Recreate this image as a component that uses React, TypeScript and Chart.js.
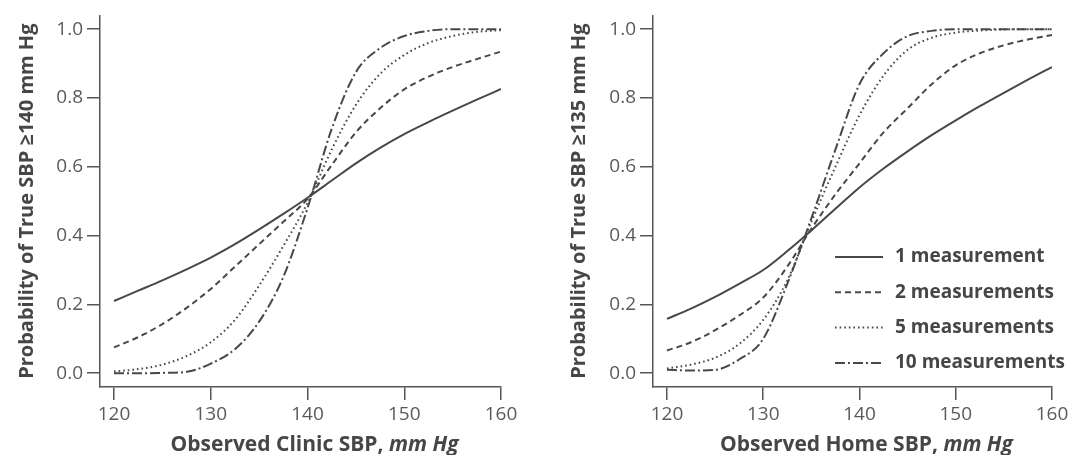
import React, { useEffect, useRef } from 'react';
import { Chart, registerables } from 'chart.js';

Chart.register(...registerables);

// ---------- data ----------
const xValues = [120, 122.5, 125, 127.5, 130, 132.5, 135, 137.5, 140, 142.5, 145, 147.5, 150, 152.5, 155, 157.5, 160];

const clinic1 = [0.21, 0.24, 0.27, 0.302, 0.336, 0.375, 0.418, 0.463, 0.51, 0.56, 0.61, 0.655, 0.695, 0.73, 0.763, 0.795, 0.826];
const clinic2 = [0.075, 0.105, 0.143, 0.19, 0.245, 0.31, 0.375, 0.44, 0.507, 0.605, 0.70, 0.77, 0.825, 0.862, 0.89, 0.913, 0.935];
const clinic5 = [0.005, 0.012, 0.025, 0.05, 0.09, 0.155, 0.255, 0.37, 0.495, 0.65, 0.78, 0.87, 0.925, 0.96, 0.98, 0.992, 0.997];
const clinic10 = [0.0, 0.0, 0.001, 0.004, 0.028, 0.07, 0.15, 0.28, 0.48, 0.71, 0.875, 0.945, 0.98, 0.995, 1.0, 1.0, 1.0];

const home1 = [0.158, 0.188, 0.222, 0.26, 0.30, 0.355, 0.415, 0.478, 0.54, 0.595, 0.645, 0.692, 0.735, 0.776, 0.815, 0.853, 0.89];
const home2 = [0.066, 0.09, 0.125, 0.168, 0.22, 0.31, 0.42, 0.52, 0.61, 0.70, 0.77, 0.84, 0.895, 0.93, 0.953, 0.97, 0.983];
const home5 = [0.014, 0.025, 0.045, 0.085, 0.155, 0.27, 0.44, 0.6, 0.75, 0.865, 0.94, 0.975, 0.99, 0.996, 0.999, 1.0, 1.0];
const home10 = [0.01, 0.008, 0.01, 0.04, 0.10, 0.26, 0.45, 0.65, 0.84, 0.93, 0.98, 0.995, 1.0, 1.0, 1.0, 1.0, 1.0];

const seriesLabels = ['1 measurement', '2 measurements', '5 measurements', '10 measurements'];
const xTicks = [120, 130, 140, 150, 160];
const yTicks = [0, 0.2, 0.4, 0.6, 0.8, 1.0];

const leftYTitle = 'Probability of True SBP \u2265140 mm Hg';
const rightYTitle = 'Probability of True SBP \u2265135 mm Hg';
const leftXTitle = 'Observed Clinic SBP, ';
const rightXTitle = 'Observed Home SBP, ';
const xTitleUnit = 'mm Hg';

// ---------- styles ----------
const FONT = '"Open Sans", "Noto Sans", sans-serif';
const LINE_COLOR = '#484848';
const AXIS_COLOR = '#555555';
const TICK_COLOR = '#5a5a5a';
const TITLE_COLOR = '#464646';
const dashes = [[], [6, 4], [1.6, 3], [10, 3, 2, 3]];

const xTitlePlugin = {
  id: 'xTitleMixed',
  afterDraw(chart: any, _args: any, opts: any) {
    if (!opts || !opts.main) return;
    const { ctx } = chart;
    const xs = chart.scales.x;
    const center = (xs.getPixelForValue(xTicks[0]) + xs.getPixelForValue(xTicks[xTicks.length - 1])) / 2 + (opts.shift || 0);
    const f1 = `bold 21px ${FONT}`;
    const f2 = `italic bold 21px ${FONT}`;
    ctx.save();
    ctx.font = f1;
    const w1 = ctx.measureText(opts.main).width;
    ctx.font = f2;
    const w2 = ctx.measureText(opts.unit).width;
    const x0 = center - (w1 + w2) / 2;
    ctx.fillStyle = TITLE_COLOR;
    ctx.textBaseline = 'middle';
    ctx.textAlign = 'left';
    ctx.font = f1;
    ctx.fillText(opts.main, x0, opts.y);
    ctx.font = f2;
    ctx.fillText(opts.unit, x0 + w1, opts.y);
    ctx.restore();
  },
};

const innerLegendPlugin = {
  id: 'innerLegend',
  afterDraw(chart: any, _args: any, opts: any) {
    if (!opts || !opts.show) return;
    const { ctx } = chart;
    chart.data.datasets.forEach((ds: any, i: number) => {
      const y = opts.top + i * opts.rowGap;
      ctx.save();
      ctx.strokeStyle = ds.borderColor;
      ctx.lineWidth = ds.borderWidth;
      ctx.setLineDash(ds.borderDash || []);
      ctx.beginPath();
      ctx.moveTo(opts.x, y);
      ctx.lineTo(opts.x + opts.sampleLen, y);
      ctx.stroke();
      ctx.setLineDash([]);
      ctx.font = `bold 19px ${FONT}`;
      ctx.fillStyle = TITLE_COLOR;
      ctx.textBaseline = 'middle';
      ctx.textAlign = 'left';
      ctx.fillText(ds.label, opts.x + opts.sampleLen + opts.gap, y);
      ctx.restore();
    });
  },
};

type PanelCfg = {
  series: number[][];
  yTitle: string;
  xTitle: string;
  areaLeft: number;
  areaRight: number;
  canvasWidth: number;
  yTitleOffset: number;
  legend: boolean;
};

function buildChart(canvas: HTMLCanvasElement, cfg: PanelCfg) {
  const datasets = cfg.series.map((vals, i) => ({
    label: seriesLabels[i],
    data: xValues.map((x, j) => ({ x, y: vals[j] })),
    borderColor: LINE_COLOR,
    borderWidth: 2,
    borderDash: dashes[i],
    pointRadius: 0,
    fill: false,
    cubicInterpolationMode: 'monotone' as const,
  }));

  return new Chart(canvas, {
    type: 'line',
    data: { datasets },
    plugins: [xTitlePlugin, innerLegendPlugin],
    options: {
      animation: false,
      responsive: false,
      devicePixelRatio: 1,
      layout: { padding: { left: 0, top: 14, right: cfg.canvasWidth - cfg.areaRight, bottom: 0 } },
      plugins: {
        legend: { display: false },
        tooltip: { enabled: false },
        xTitleMixed: { main: cfg.xTitle, unit: xTitleUnit, y: 445, shift: 7 },
        innerLegend: { show: cfg.legend, x: 295, top: 257, rowGap: 35.3, sampleLen: 48, gap: 12 },
      } as any,
      scales: {
        x: {
          type: 'linear',
          min: 118.55,
          max: 160,
          afterFit: (s: any) => { s.height = 455 - 387; },
          afterBuildTicks: (s: any) => { s.ticks = xTicks.map((v) => ({ value: v })); },
          grid: { drawOnChartArea: false, drawTicks: true, tickLength: 13, color: AXIS_COLOR, lineWidth: 1.5 },
          border: { display: true, color: AXIS_COLOR, width: 1.5 },
          ticks: {
            autoSkip: false,
            maxRotation: 0,
            padding: 3,
            color: TICK_COLOR,
            font: { family: FONT, size: 19 },
            callback: (v: any) => String(v),
          },
          title: { display: false },
        },
        y: {
          type: 'linear',
          min: -0.04,
          max: 1.04,
          afterFit: (s: any) => { s.width = cfg.areaLeft; },
          afterBuildTicks: (s: any) => { s.ticks = yTicks.map((v) => ({ value: v })); },
          grid: { drawOnChartArea: false, drawTicks: true, tickLength: 13, color: AXIS_COLOR, lineWidth: 1.5 },
          border: { display: true, color: AXIS_COLOR, width: 1.5 },
          ticks: {
            padding: 4,
            color: TICK_COLOR,
            font: { family: FONT, size: 19 },
            callback: (v: any) => Number(v).toFixed(1),
          },
          title: {
            display: true,
            text: cfg.yTitle,
            color: TITLE_COLOR,
            font: { family: FONT, size: 20, weight: 'bold' as any },
            padding: { top: cfg.yTitleOffset, bottom: 0 },
          },
        },
      },
    },
  });
}

export default function App() {
  const leftRef = useRef<HTMLCanvasElement>(null);
  const rightRef = useRef<HTMLCanvasElement>(null);

  useEffect(() => {
    const charts: Chart[] = [];
    if (leftRef.current) {
      charts.push(
        buildChart(leftRef.current, {
          series: [clinic1, clinic2, clinic5, clinic10],
          yTitle: leftYTitle,
          xTitle: leftXTitle,
          areaLeft: 100,
          areaRight: 501,
          canvasWidth: 540,
          yTitleOffset: 15,
          legend: false,
        })
      );
    }
    if (rightRef.current) {
      charts.push(
        buildChart(rightRef.current, {
          series: [home1, home2, home5, home10],
          yTitle: rightYTitle,
          xTitle: rightXTitle,
          areaLeft: 113,
          areaRight: 512,
          canvasWidth: 536,
          yTitleOffset: 27,
          legend: true,
        })
      );
    }
    return () => charts.forEach((c) => c.destroy());
  }, []);

  return (
    <div style={{ position: 'fixed', left: 0, top: 0, width: 1076, height: 455, background: '#ffffff', overflow: 'hidden' }}>
      <canvas ref={leftRef} width={540} height={455} style={{ position: 'absolute', left: 0, top: 0, width: 540, height: 455 }} />
      <canvas ref={rightRef} width={536} height={455} style={{ position: 'absolute', left: 540, top: 0, width: 536, height: 455 }} />
    </div>
  );
}
